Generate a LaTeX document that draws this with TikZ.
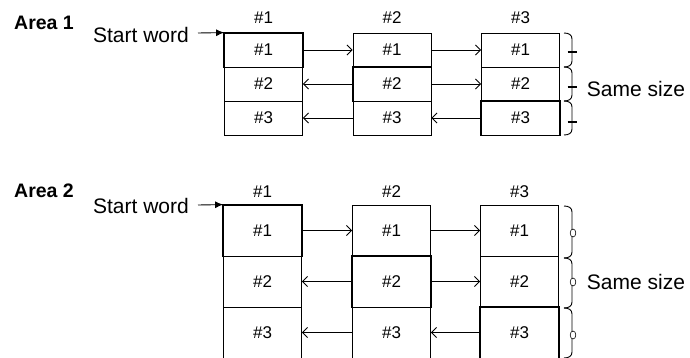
\documentclass[tikz,border=0pt]{standalone}
\usepackage{fontspec}
\setmainfont{Liberation Sans}
\usetikzlibrary{arrows.meta}
\begin{document}
\begin{tikzpicture}[x=1pt,y=-1pt,
  cell/.style={draw,line width=0.8pt,minimum width=78pt,inner sep=0pt,font=\fontsize{17}{20}\selectfont},
  cellA/.style={cell,minimum height=34pt},
  cellB/.style={cell,minimum height=51pt},
  bold/.style={line width=1.4pt},
  head/.style={font=\fontsize{17}{20}\selectfont,inner sep=0pt},
  lbl/.style={font=\fontsize{21}{25}\selectfont,inner sep=0pt},
  area/.style={font=\fontsize{19.5}{23}\selectfont\bfseries,inner sep=0pt},
  link/.style={draw,line width=0.8pt,-{Straight Barb[length=5pt,width=10pt,line width=0.9pt]}},
  start/.style={draw,line width=0.9pt,-{Latex[length=8pt,width=7pt]}},
  brc/.style={draw,line width=0.9pt}
]
\useasboundingbox (0,0) rectangle (690,358);
\fill[white] (0,0) rectangle (690,358);

% ---------------- Area 1 ----------------
\node[area] (ar1) at (44,23) {Area 1};
\node[lbl] (sw1) at (141,35) {Start word};
\foreach \c/\x in {1/263.5,2/392,3/520.5}{
  \node[head] (ha\c) at (\x,18) {\#\c};
  \node[cellA] (a\c1) at (\x,50) {\#1};
  \node[cellA] (a\c2) at (\x,84) {\#2};
  \node[cellA] (a\c3) at (\x,118) {\#3};
}
\foreach \n in {a11,a22,a33}{
  \draw[bold] (\n.north west) rectangle (\n.south east);
}
\coordinate (s1) at (198,33);
\draw[start] (s1) -- (a11.north west);
\draw[link] (a11.east) -- (a21.west);
\draw[link] (a22.west) -- (a12.east);
\draw[link] (a23.west) -- (a13.east);
\draw[link] (a21.east) -- (a31.west);
\draw[link] (a22.east) -- (a32.west);
\draw[link] (a33.west) -- (a23.east);
% braces
\foreach \yt/\yb in {33/67,67/101,101/135}{
  \draw[brc] (564,\yt) .. controls (569,\yt) and (572,\yt+2) .. (572,\yt+6) -- (572,\yb-6) .. controls (572,\yb-2) and (569,\yb) .. (564,\yb);
}
\foreach \y in {52,87,122}{
  \draw[line width=2.2pt] (567.5,\y) -- (576.5,\y);
}
\node[lbl] (ss1) at (636,89) {Same size};

% ---------------- Area 2 ----------------
\node[area] (ar2) at (44,191) {Area 2};
\node[lbl] (sw2) at (141,206) {Start word};
\foreach \c/\x in {1/262.5,2/391.5,3/519.5}{
  \node[head] (hb\c) at (\x,192) {\#\c};
  \node[cellB] (b\c1) at (\x,230.5) {\#1};
  \node[cellB] (b\c2) at (\x,281.5) {\#2};
  \node[cellB] (b\c3) at (\x,332.5) {\#3};
}
\foreach \n in {b11,b22,b33}{
  \draw[bold] (\n.north west) rectangle (\n.south east);
}
\coordinate (s2) at (198,205);
\draw[start] (s2) -- (b11.north west);
\draw[link] (b11.east) -- (b21.west);
\draw[link] (b22.west) -- (b12.east);
\draw[link] (b23.west) -- (b13.east);
\draw[link] (b21.east) -- (b31.west);
\draw[link] (b22.east) -- (b32.west);
\draw[link] (b33.west) -- (b23.east);
\foreach \yt/\yb in {206/258,258/308,308/358}{
  \draw[brc] (564,\yt) .. controls (569,\yt) and (572,\yt+2) .. (572,\yt+6) -- (572,\yb-6) .. controls (572,\yb-2) and (569,\yb) .. (564,\yb);
}
\foreach \y in {233,282,335}{
  \draw[line width=0.6pt,fill=white] (573,\y) ellipse (2.8pt and 4pt);
}
\node[lbl] (ss2) at (636,282) {Same size};
\end{tikzpicture}
\end{document}
